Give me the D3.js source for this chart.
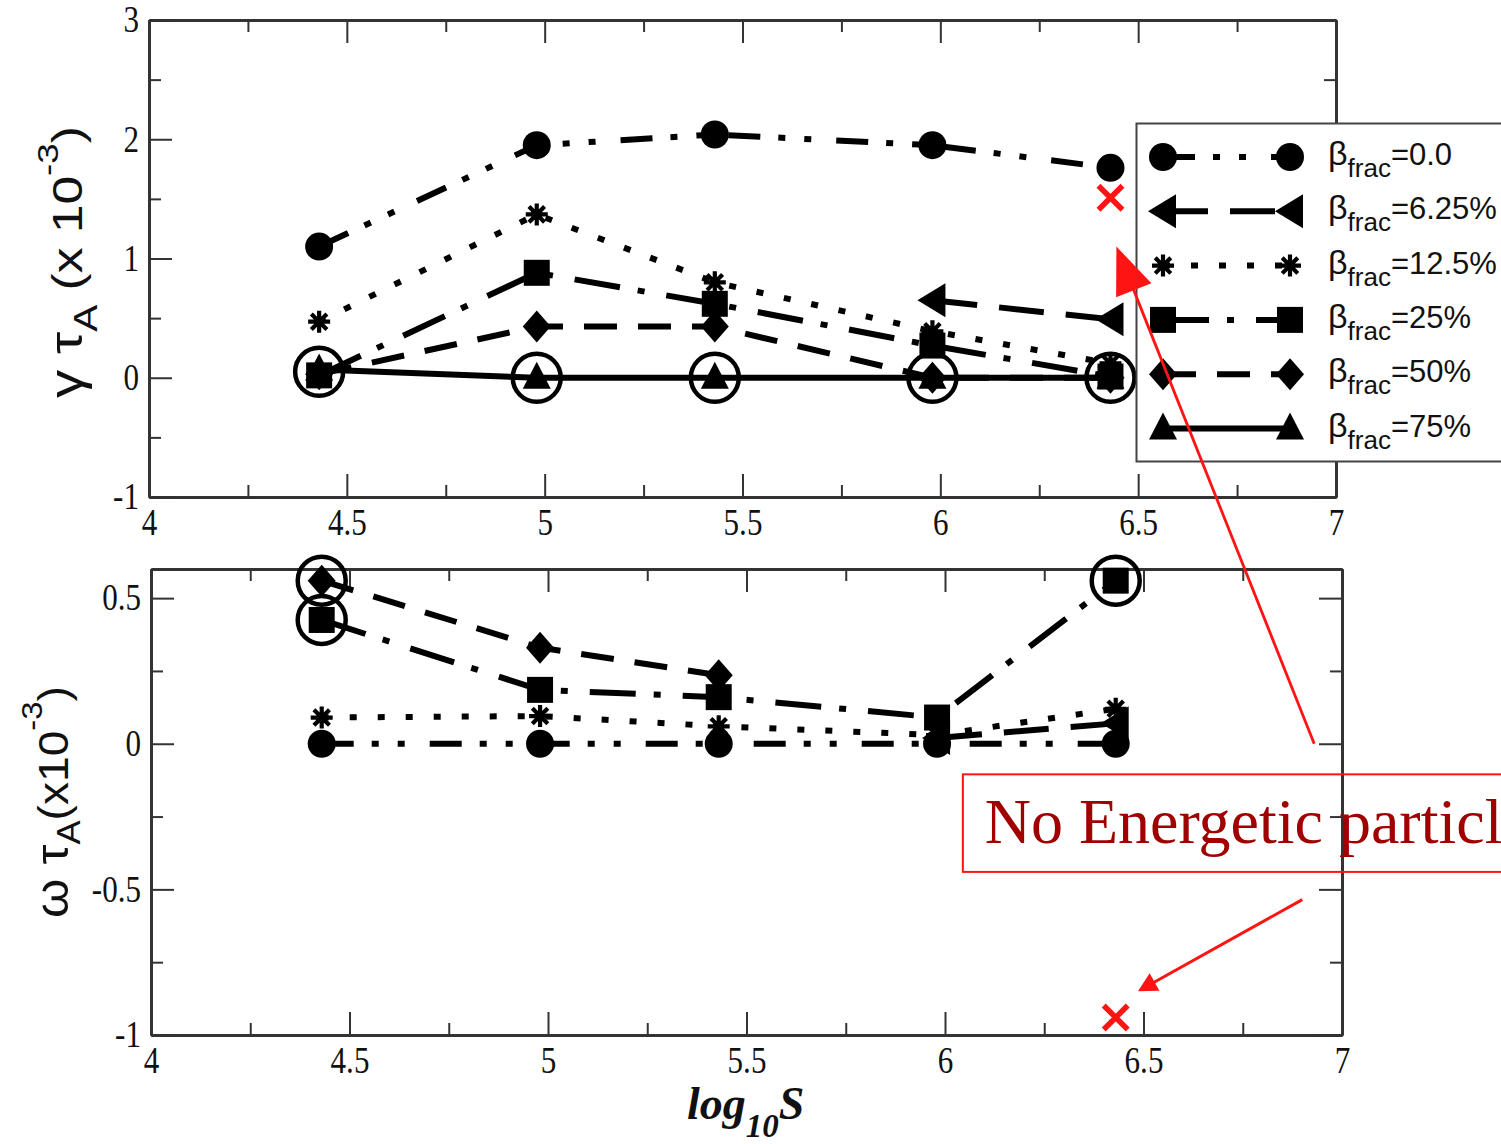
<!DOCTYPE html>
<html>
<head>
<meta charset="utf-8">
<script src="https://cdn.jsdelivr.net/npm/d3@7"></script>
<style>
  html, body { margin: 0; padding: 0; background: #fff; overflow: hidden; }
  svg { display: block; }
</style>
</head>
<body>
<svg id="chart" width="1501" height="1144"></svg>
<script>
// ---- data ----------------------------------------------------------------
const logS = [4.43, 4.98, 5.43, 5.98, 6.43];
const betaLabels = ["0.0", "6.25%", "12.5%", "25%", "50%", "75%"];

// growth rate  gamma*tau_A (x 1e-3)
const growthB0   = [1.10, 1.95, 2.04, 1.95, 1.76];
const growthB625 = [null, null, null, 0.65, 0.49];
const growthB125 = [0.47, 1.37, 0.80, 0.39, 0.12];
const growthB25  = [0.02, 0.88, 0.62, 0.27, 0.01];
const growthB50  = [0.03, 0.43, 0.43, 0.00, 0.00];
const growthB75  = [0.07, 0.00, 0.00, 0.00, 0.00];

// real frequency  omega*tau_A (x 1e-3)
const freqB0   = [0.00, 0.00, 0.00, 0.00, 0.00];
const freqB625 = [null, null, null, 0.02, 0.07];
const freqB125 = [0.09, 0.095, 0.06, 0.03, 0.12];
const freqB25  = [0.425, 0.185, 0.16, 0.09, 0.56];
const freqB50  = [0.56, 0.33, 0.235, null, null];
const freqB75  = [null, null, null, null, null];

// highlighted (circled) points [logS, value]
const growthCircled = [[4.43, 0.05], [4.98, 0], [5.43, 0], [5.98, 0], [6.43, 0]];
const freqCircled   = [[4.43, 0.56], [4.43, 0.425], [6.43, 0.56]];

// runs without energetic particles [logS, value]
const noEPGrowth = [6.43, 1.51];
const noEPFreq   = [6.43, -0.94];

// axis ticks
const xMajor = [4, 4.5, 5, 5.5, 6, 6.5, 7];
const xMinor = [4.25, 4.75, 5.25, 5.75, 6.25, 6.75];
const growthMajor = [-1, 0, 1, 2, 3];
const growthMinor = [-0.5, 0.5, 1.5, 2.5];
const freqMajor = [-1, -0.5, 0, 0.5];
const freqMinor = [-0.75, -0.25, 0.25];

// annotation anchors, in frequency-panel data units (arrow 1 ends in growth panel)
const noteBox = { x0: 6.045, x1: 7.5, y0: -0.105, y1: -0.44, tx: 6.1, ty: -0.34 };
const arrow1 = { from: [6.93, 0.0], to: [6.445, 1.10] };
const arrow2 = { from: [6.90, -0.535], to: [6.486, -0.85] };

// ---- styles ----------------------------------------------------------------
const shapes = ["circle", "left", "star", "square", "diamond", "up"];
const dashes = ["32,18,7,19,7,25", "45,22", "7,21", "46,18,7,22", "33,21", null];
const RED = "#ff1414";

const svg = d3.select("#chart");

function markerPath(shape) {
  const p = d3.path();
  if (shape === "circle") { p.arc(0, 0, 14, 0, 2 * Math.PI); }
  else if (shape === "left") { p.moveTo(-15, 0); p.lineTo(13, -17); p.lineTo(13, 17); p.closePath(); }
  else if (shape === "square") { p.rect(-13, -13, 26, 26); }
  else if (shape === "diamond") { p.moveTo(0, -16); p.lineTo(14, 0); p.lineTo(0, 16); p.lineTo(-14, 0); p.closePath(); }
  else if (shape === "up") { p.moveTo(0, -16); p.lineTo(14, 11); p.lineTo(-14, 11); p.closePath(); }
  else if (shape === "star") {
    for (let k = 0; k < 4; k++) {
      const a = k * Math.PI / 4;
      p.moveTo(11 * Math.cos(a), 11 * Math.sin(a));
      p.lineTo(-11 * Math.cos(a), -11 * Math.sin(a));
    }
  }
  return p.toString();
}

function drawMarker(g, shape, cx, cy) {
  const m = g.append("g").attr("transform", `translate(${cx},${cy})`);
  if (shape === "star") {
    m.append("path").attr("d", markerPath("star")).attr("stroke", "#000").attr("stroke-width", 4.2).attr("fill", "none");
    m.append("circle").attr("r", 5).attr("fill", "#000");
  } else {
    m.append("path").attr("d", markerPath(shape)).attr("fill", "#000");
  }
}

function squeezeLabels(sel, k) {
  sel.selectAll(".tick text").each(function () {
    const w = this.getComputedTextLength();
    if (w > 0) d3.select(this).attr("textLength", w * k).attr("lengthAdjust", "spacingAndGlyphs");
  });
}

function styleAxis(a) {
  a.attr("font-family", null).attr("font-size", null);
  a.select(".domain").attr("stroke", "#333").attr("stroke-width", 3);
  a.selectAll(".tick line").attr("stroke", "#333").attr("stroke-width", 2);
  a.selectAll(".tick text").attr("fill", "#111")
    .style("font-family", "'Liberation Serif', 'Times New Roman', serif").style("font-size", "37px");
}

function drawPanel(opts) {
  const { x, y, yMajor, yMinor, series, circled, noEP } = opts;
  const g = svg.append("g");
  const [x0, x1] = x.range();
  const [yb, yt] = y.range();

  // frame with inward ticks on all four sides
  const bottom = g.append("g").attr("transform", `translate(0,${yb})`)
    .call(d3.axisBottom(x).tickValues(xMajor).tickSize(-23).tickSizeOuter(0).tickPadding(12).tickFormat(d => String(d)));
  const bottomMinor = g.append("g").attr("transform", `translate(0,${yb})`)
    .call(d3.axisBottom(x).tickValues(xMinor).tickSize(-12).tickSizeOuter(0).tickFormat(""));
  const top = g.append("g").attr("transform", `translate(0,${yt})`)
    .call(d3.axisTop(x).tickValues(xMajor).tickSize(-23).tickSizeOuter(0).tickFormat(""));
  const topMinor = g.append("g").attr("transform", `translate(0,${yt})`)
    .call(d3.axisTop(x).tickValues(xMinor).tickSize(-12).tickSizeOuter(0).tickFormat(""));
  const left = g.append("g").attr("transform", `translate(${x0},0)`)
    .call(d3.axisLeft(y).tickValues(yMajor).tickSize(-23).tickSizeOuter(0).tickPadding(10).tickFormat(d => String(d)));
  const leftMinor = g.append("g").attr("transform", `translate(${x0},0)`)
    .call(d3.axisLeft(y).tickValues(yMinor).tickSize(-12).tickSizeOuter(0).tickFormat(""));
  const right = g.append("g").attr("transform", `translate(${x1},0)`)
    .call(d3.axisRight(y).tickValues(yMajor).tickSize(-23).tickSizeOuter(0).tickFormat(""));
  const rightMinor = g.append("g").attr("transform", `translate(${x1},0)`)
    .call(d3.axisRight(y).tickValues(yMinor).tickSize(-12).tickSizeOuter(0).tickFormat(""));
  [bottom, bottomMinor, top, topMinor, left, leftMinor, right, rightMinor].forEach(styleAxis);
  squeezeLabels(bottom, 0.84);
  squeezeLabels(left, 0.84);

  const line = d3.line()
    .defined(d => d[1] != null)
    .x(d => x(d[0])).y(d => y(d[1]));

  series.forEach((vals, i) => {
    const pts = logS.map((s, j) => [s, vals[j]]);
    const path = g.append("path").attr("d", line(pts))
      .attr("fill", "none").attr("stroke", "#000").attr("stroke-width", 6)
      .attr("stroke-linejoin", "round");
    if (dashes[i]) path.attr("stroke-dasharray", dashes[i]);
  });
  series.forEach((vals, i) => {
    logS.forEach((s, j) => {
      if (vals[j] != null) drawMarker(g, shapes[i], x(s), y(vals[j]));
    });
  });

  g.selectAll("circle.ring").data(circled).join("circle").attr("class", "ring")
    .attr("cx", d => x(d[0])).attr("cy", d => y(d[1])).attr("r", 24)
    .attr("fill", "none").attr("stroke", "#000").attr("stroke-width", 4.5);

  const cx = x(noEP[0]), cy = y(noEP[1]);
  g.append("path")
    .attr("d", `M${cx - 12},${cy - 12}L${cx + 12},${cy + 12}M${cx - 12},${cy + 12}L${cx + 12},${cy - 12}`)
    .attr("stroke", RED).attr("stroke-width", 5.5).attr("fill", "none");
  return g;
}

// ---- scales ----------------------------------------------------------------
const xG = d3.scaleLinear().domain([4, 7]).range([149, 1336]);
const yG = d3.scaleLinear().domain([-1, 3]).range([497, 20]);
const xF = d3.scaleLinear().domain([4, 7]).range([151, 1342]);
const yF = d3.scaleLinear().domain([-1, 0.6]).range([1035, 569]);

drawPanel({ x: xG, y: yG, yMajor: growthMajor, yMinor: growthMinor,
  series: [growthB0, growthB625, growthB125, growthB25, growthB50, growthB75],
  circled: growthCircled, noEP: noEPGrowth });
drawPanel({ x: xF, y: yF, yMajor: freqMajor, yMinor: freqMinor,
  series: [freqB0, freqB625, freqB125, freqB25, freqB50, freqB75],
  circled: freqCircled, noEP: noEPFreq });

// ---- axis titles -----------------------------------------------------------
function yTitle(cx, cy, len, greek, sub, subDy, supDy) {
  const t = svg.append("text")
    .attr("transform", `translate(${cx},${cy}) rotate(-90)`)
    .attr("text-anchor", "middle")
    .attr("textLength", len).attr("lengthAdjust", "spacingAndGlyphs")
    .style("font-family", "'Liberation Sans', Arial, sans-serif").style("font-size", "42px").attr("fill", "#111");
  t.append("tspan").style("font-size", "46px").text(greek + " \u03c4");
  t.append("tspan").attr("dy", subDy).style("font-size", "33px").text("A");
  t.append("tspan").attr("dy", -subDy).text(sub);
  t.append("tspan").attr("dy", -supDy).style("font-size", "30px").text("-3");
  t.append("tspan").attr("dy", supDy).text(")");
}
yTitle(82, 262, 272, "\u03b3", " (x 10", 15, 24);
yTitle(68, 802, 232, "\u03c9", "(x10", 12, 26);

const xt = svg.append("text").attr("x", 687).attr("y", 1119)
  .style("font-family", "'Liberation Serif', 'Times New Roman', serif")
  .style("font-weight", "bold").style("font-style", "italic").style("font-size", "46px").attr("fill", "#111");
xt.append("tspan").text("log");
xt.append("tspan").attr("dy", 18).style("font-size", "33px").text("10");
xt.append("tspan").attr("dy", -18).text("S");

// ---- legend ----------------------------------------------------------------
const legend = svg.append("g");
legend.append("rect").attr("x", 1136.5).attr("y", 123.5).attr("width", 380).attr("height", 338)
  .attr("fill", "#fff").attr("stroke", "#444").attr("stroke-width", 2);
betaLabels.forEach((lab, i) => {
  const ry = 157 + i * 54.3;
  const ln = legend.append("line").attr("x1", 1163).attr("x2", 1290).attr("y1", ry).attr("y2", ry)
    .attr("stroke", "#000").attr("stroke-width", 6);
  if (dashes[i]) ln.attr("stroke-dasharray", dashes[i]);
  drawMarker(legend, shapes[i], 1163, ry);
  drawMarker(legend, shapes[i], 1290, ry);
  const t = legend.append("text").attr("x", 1328).attr("y", ry + 8)
    .style("font-family", "'Liberation Sans', Arial, sans-serif").style("font-size", "31px").attr("fill", "#111");
  t.append("tspan").style("font-size", "34px").text("\u03b2");
  t.append("tspan").attr("dy", 12).style("font-size", "26px").text("frac");
  t.append("tspan").attr("dy", -12).text("=" + lab);
});

// ---- annotation ------------------------------------------------------------
svg.append("rect")
  .attr("x", xF(noteBox.x0)).attr("y", yF(noteBox.y0))
  .attr("width", xF(noteBox.x1) - xF(noteBox.x0)).attr("height", yF(noteBox.y1) - yF(noteBox.y0))
  .attr("fill", "none").attr("stroke", RED).attr("stroke-width", 2);
svg.append("text").attr("x", xF(noteBox.tx)).attr("y", yF(noteBox.ty))
  .style("font-family", "'Liberation Serif', 'Times New Roman', serif").style("font-size", "64px")
  .attr("fill", "#a00000").text("No Energetic particles");

function arrow(p0, p1, headLen, headHalf, width) {
  const dx = p1[0] - p0[0], dy = p1[1] - p0[1];
  const L = Math.hypot(dx, dy), ux = dx / L, uy = dy / L;
  const bx = p1[0] - ux * headLen, by = p1[1] - uy * headLen;
  svg.append("line").attr("x1", p0[0]).attr("y1", p0[1]).attr("x2", bx + ux * 2).attr("y2", by + uy * 2)
    .attr("stroke", RED).attr("stroke-width", width);
  svg.append("path")
    .attr("d", `M${p1[0]},${p1[1]}L${bx - uy * headHalf},${by + ux * headHalf}L${bx + uy * headHalf},${by - ux * headHalf}Z`)
    .attr("fill", RED);
}
arrow([xF(arrow1.from[0]), yF(arrow1.from[1])], [xG(arrow1.to[0]), yG(arrow1.to[1])], 47, 19, 2.8);
arrow([xF(arrow2.from[0]), yF(arrow2.from[1])], [xF(arrow2.to[0]), yF(arrow2.to[1])], 19, 10, 3);
</script>
</body>
</html>
